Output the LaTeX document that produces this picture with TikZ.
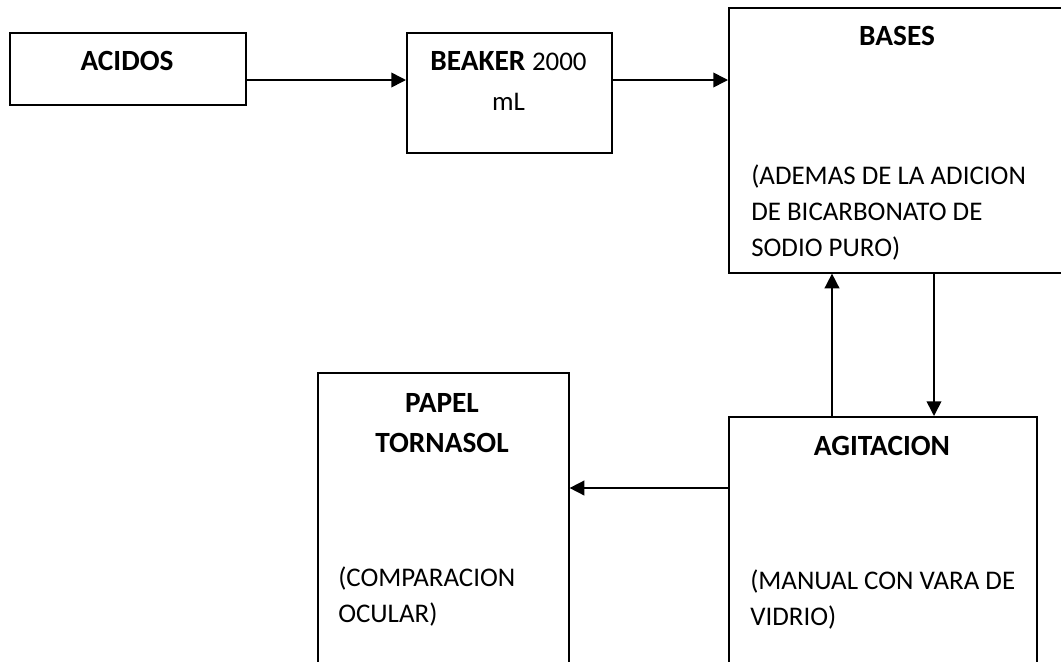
\documentclass[tikz,border=0pt]{standalone}
\usepackage{fontspec}
\setmainfont{Carlito}
\usetikzlibrary{arrows.meta, positioning}
\newcommand{\litetext}{\mdseries\fontsize{20.2}{30}\selectfont}
\tikzset{
  stage/.style={draw, line width=1.2pt, inner sep=0pt, anchor=north west},
  head/.style={font=\fontsize{22}{30}\selectfont\bfseries, align=center, inner sep=0pt, anchor=base},
  note/.style={font=\fontsize{20.2}{27}\selectfont, align=left, inner sep=0pt, anchor=base west},
  flow/.style={-{Triangle[length=11pt, width=11pt]}, line width=1.2pt}
}

\begin{document}
\begin{tikzpicture}[x=0.75pt, y=-0.75pt]
  \useasboundingbox (0,0) rectangle (1061,661);
  \clip (0,0) rectangle (1061,661);
  % boxes
  \node[stage, minimum width=177pt, minimum height=54pt] (acidos) at (9,32) {};
  \node[stage, minimum width=153.75pt, minimum height=90pt] (beaker) at (406,32) {};
  \node[stage, minimum width=253.5pt, minimum height=198.75pt] (bases) at (728,7) {};
  \node[stage, minimum width=231pt, minimum height=225pt] (agit) at (728,416) {};
  \node[stage, minimum width=188.25pt, minimum height=255pt] (papel) at (317,372) {};
  % texts (base anchor = last line)
  \node[head] (acidostxt) at (127,70.5) {ACIDOS};
  \node[head] (beakertxt) at (508.5,110) {BEAKER {\litetext 2000}\\{\litetext mL}};
  \node[head] (basestxt) at (897,45) {BASES};
  \node[note] (basesnote) at (751,256) {(ADEMAS DE LA ADICION\\DE BICARBONATO DE\\SODIO PURO)};
  \node[head] (agittxt) at (882,455) {AGITACION};
  \node[note] (agitnote) at (750,625) {(MANUAL CON VARA DE\\VIDRIO)};
  \node[head] (papeltxt) at (442,452) {PAPEL\\TORNASOL};
  \node[note] (papelnote) at (338,622) {(COMPARACION\\OCULAR)};
  % connectors
  \coordinate (row) at (0,80);
  \coordinate (upx) at (832,0);
  \coordinate (downx) at (934,0);
  \coordinate (side) at (0,488);
  \foreach \s/\e in {acidos/beaker, beaker/bases}{\draw[flow] (\s.east |- row) -- (\e.west |- row);}
  \draw[flow] (agit.north -| upx) -- (bases.south -| upx);
  \draw[flow] (bases.south -| downx) -- (agit.north -| downx);
  \draw[flow] (agit.west |- side) -- (papel.east |- side);
\end{tikzpicture}
\end{document}
